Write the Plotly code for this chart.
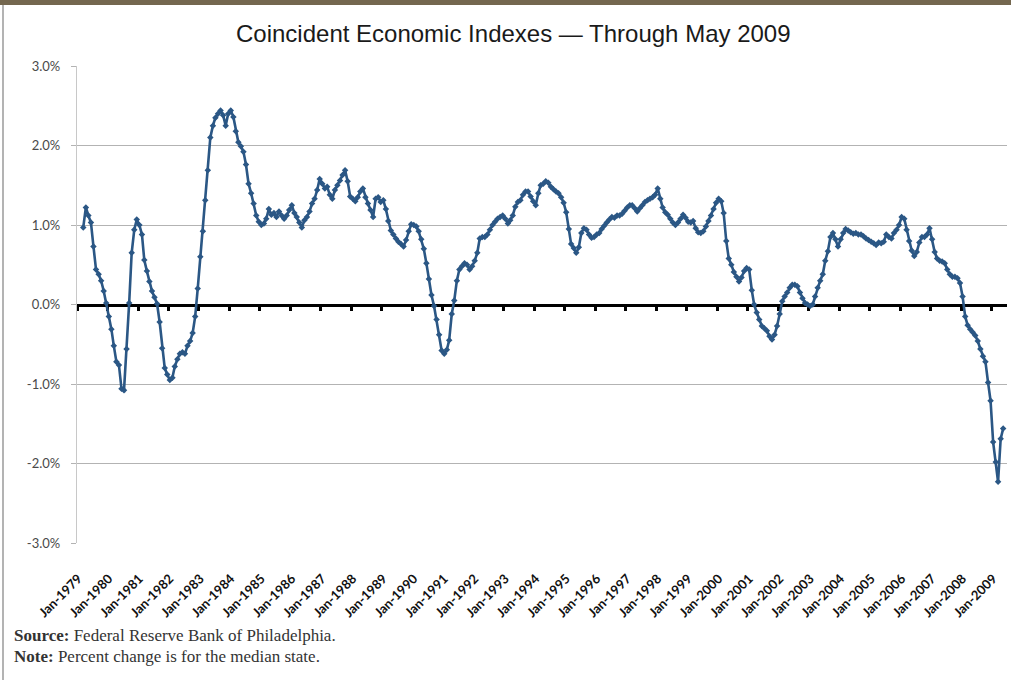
import pandas as pd
import plotly.graph_objects as go

# ---- data: monthly % change, median state (Jan 1979 - May 2009) ----
v1979 = [None, None, 0.97, 1.22, 1.12, 1.03, 0.73, 0.44, 0.38, 0.30, 0.17, 0.02]
v1980 = [-0.15, -0.31, -0.52, -0.72, -0.76, -1.06, -1.08, -0.56, 0.02, 0.65, 0.94, 1.07]
v1981 = [1.00, 0.88, 0.56, 0.42, 0.29, 0.17, 0.09, 0.01, -0.22, -0.55, -0.80, -0.88]
v1982 = [-0.95, -0.92, -0.78, -0.69, -0.62, -0.60, -0.62, -0.52, -0.46, -0.36, -0.15, 0.20]
v1983 = [0.60, 0.92, 1.31, 1.69, 2.10, 2.25, 2.35, 2.40, 2.44, 2.38, 2.25, 2.40]
v1984 = [2.44, 2.36, 2.18, 2.04, 1.99, 1.92, 1.76, 1.52, 1.40, 1.27, 1.12, 1.04]
v1985 = [1.00, 1.02, 1.08, 1.20, 1.13, 1.15, 1.10, 1.17, 1.12, 1.08, 1.12, 1.19]
v1986 = [1.25, 1.15, 1.10, 1.03, 0.97, 1.06, 1.10, 1.17, 1.27, 1.33, 1.44, 1.58]
v1987 = [1.52, 1.46, 1.48, 1.38, 1.33, 1.44, 1.50, 1.56, 1.63, 1.69, 1.55, 1.36]
v1988 = [1.33, 1.30, 1.35, 1.42, 1.46, 1.35, 1.27, 1.19, 1.10, 1.33, 1.35, 1.29]
v1989 = [1.31, 1.20, 1.05, 0.93, 0.88, 0.83, 0.79, 0.76, 0.73, 0.81, 0.92, 1.01]
v1990 = [1.00, 0.98, 0.92, 0.82, 0.70, 0.52, 0.32, 0.12, -0.02, -0.19, -0.38, -0.58]
v1991 = [-0.62, -0.57, -0.45, -0.12, 0.05, 0.30, 0.44, 0.48, 0.52, 0.50, 0.44, 0.48]
v1992 = [0.55, 0.65, 0.83, 0.85, 0.85, 0.88, 0.94, 1.00, 1.04, 1.08, 1.10, 1.12]
v1993 = [1.08, 1.02, 1.06, 1.12, 1.23, 1.29, 1.31, 1.38, 1.42, 1.42, 1.36, 1.30]
v1994 = [1.25, 1.40, 1.50, 1.52, 1.55, 1.53, 1.48, 1.45, 1.42, 1.40, 1.35, 1.28]
v1995 = [1.16, 0.95, 0.76, 0.71, 0.65, 0.72, 0.90, 0.96, 0.94, 0.88, 0.84, 0.85]
v1996 = [0.88, 0.90, 0.95, 0.99, 1.03, 1.07, 1.10, 1.09, 1.12, 1.12, 1.14, 1.18]
v1997 = [1.22, 1.25, 1.25, 1.21, 1.17, 1.21, 1.25, 1.29, 1.31, 1.33, 1.35, 1.38]
v1998 = [1.46, 1.33, 1.22, 1.16, 1.13, 1.08, 1.03, 1.00, 1.03, 1.08, 1.13, 1.09]
v1999 = [1.04, 1.03, 1.05, 0.96, 0.91, 0.90, 0.92, 0.98, 1.05, 1.12, 1.20, 1.28]
v2000 = [1.33, 1.30, 1.15, 0.80, 0.58, 0.50, 0.41, 0.35, 0.29, 0.34, 0.42, 0.46]
v2001 = [0.44, 0.18, 0.00, -0.10, -0.19, -0.27, -0.30, -0.33, -0.40, -0.44, -0.38, -0.27]
v2002 = [-0.12, 0.04, 0.10, 0.15, 0.21, 0.25, 0.25, 0.23, 0.15, 0.08, 0.02, 0.00]
v2003 = [-0.02, 0.00, 0.10, 0.21, 0.30, 0.38, 0.55, 0.67, 0.85, 0.90, 0.82, 0.73]
v2004 = [0.82, 0.90, 0.95, 0.93, 0.91, 0.89, 0.90, 0.88, 0.88, 0.86, 0.83, 0.81]
v2005 = [0.79, 0.77, 0.75, 0.78, 0.77, 0.79, 0.88, 0.85, 0.83, 0.90, 0.94, 1.00]
v2006 = [1.10, 1.08, 0.94, 0.80, 0.68, 0.61, 0.66, 0.78, 0.85, 0.85, 0.88, 0.96]
v2007 = [0.82, 0.66, 0.58, 0.55, 0.54, 0.52, 0.44, 0.38, 0.35, 0.35, 0.33, 0.27]
v2008 = [0.10, -0.15, -0.26, -0.31, -0.35, -0.39, -0.46, -0.56, -0.65, -0.72, -0.98, -1.21]
v2009 = [-1.73, -1.98, -2.23, -1.69, -1.56]

years = list(range(1979, 2010))
tick_labels = [f"Jan-{y}" for y in years]
y_ticks = [3, 2, 1, 0, -1, -2, -3]
y_tick_labels = ["3.0%", "2.0%", "1.0%", "0.0%", "-1.0%", "-2.0%", "-3.0%"]

values = (v1979 + v1980 + v1981 + v1982 + v1983 + v1984 + v1985 + v1986 + v1987
          + v1988 + v1989 + v1990 + v1991 + v1992 + v1993 + v1994 + v1995 + v1996
          + v1997 + v1998 + v1999 + v2000 + v2001 + v2002 + v2003 + v2004 + v2005
          + v2006 + v2007 + v2008 + v2009)
months = pd.date_range("1979-01-01", periods=len(values), freq="MS")

LINE = "#2b5785"
fig = go.Figure()
fig.add_trace(go.Scatter(
    x=months, y=values, mode="lines+markers",
    line=dict(color=LINE, width=2.6),
    marker=dict(symbol="diamond", size=5, color=LINE),
    connectgaps=False, showlegend=False, hoverinfo="x+y",
))
# helper trace so the zero-line axis (x2) is drawn
fig.add_trace(go.Scatter(x=[months[0]], y=[0], xaxis="x2", mode="markers",
                         marker=dict(opacity=0), showlegend=False, hoverinfo="skip"))

xr = ["1978-12-16", "2009-06-16"]
fig.update_layout(
    width=1011, height=680,
    margin=dict(l=77, r=4, t=66, b=137),
    paper_bgcolor="white", plot_bgcolor="white",
    xaxis=dict(
        range=xr, type="date",
        tickvals=[f"{y}-01-01" for y in years], ticktext=tick_labels,
        tickangle=-45, showgrid=False, zeroline=False, showline=False,
        ticks="outside", ticklen=22, tickcolor="rgba(0,0,0,0)",
        tickfont=dict(family="Lato", size=13, color="#111111", weight="bold"),
    ),
    xaxis2=dict(
        range=xr, type="date", overlaying="x", anchor="free", position=0.5,
        matches="x",
        tickvals=[f"{y - 1}-12-16" for y in years],
        showticklabels=False, showgrid=False, zeroline=False,
        showline=True, linecolor="#000000", linewidth=2.5,
        ticks="outside", ticklen=5, tickwidth=2.5, tickcolor="#000000",
        layer="below traces",
    ),
    yaxis=dict(
        range=[-3, 3], tickvals=y_ticks, ticktext=y_tick_labels,
        showgrid=True, gridcolor="#b3b3b3", gridwidth=1.3, zeroline=False,
        showline=True, linecolor="#c8c8c8", linewidth=1.3,
        ticks="outside", ticklen=5, tickcolor="#b3b3b3",
        ticklabelstandoff=8,
        tickfont=dict(family="Lato", size=13, color="#4a4a4a"),
    ),
)

W, H = 930.0, 477.0  # plot area size in px
def px(x):
    return (x - 77) / W
def py(y):
    return (543 - y) / H

# frame: brown header bar and grey left border
fig.add_shape(type="rect", xref="paper", yref="paper", x0=px(0), x1=px(1011),
              y0=py(5), y1=py(0), fillcolor="#74674f", line=dict(width=0), layer="above")
fig.add_shape(type="line", xref="paper", yref="paper", x0=px(3), x1=px(3),
              y0=py(5), y1=py(680), line=dict(color="#9a9a9a", width=1.5))

fig.add_annotation(text="Coincident Economic Indexes \u2014 Through May 2009",
                   xref="paper", yref="paper", x=px(513), y=py(33),
                   xanchor="center", yanchor="middle", showarrow=False,
                   font=dict(family="Liberation Sans", size=24, color="#1a1a1a"))
fig.add_annotation(text="<b>Source:</b> Federal Reserve Bank of Philadelphia.",
                   xref="paper", yref="paper", x=px(12), y=py(635),
                   xanchor="left", yanchor="middle", showarrow=False,
                   font=dict(family="Liberation Serif", size=17, color="#333333"))
fig.add_annotation(text="<b>Note:</b> Percent change is for the median state.",
                   xref="paper", yref="paper", x=px(12), y=py(656),
                   xanchor="left", yanchor="middle", showarrow=False,
                   font=dict(family="Liberation Serif", size=17, color="#333333"))

fig.write_html("out.html", config={"displayModeBar": False},
               post_script="document.body.style.margin='0px';"
                           "document.body.style.overflow='hidden';")
